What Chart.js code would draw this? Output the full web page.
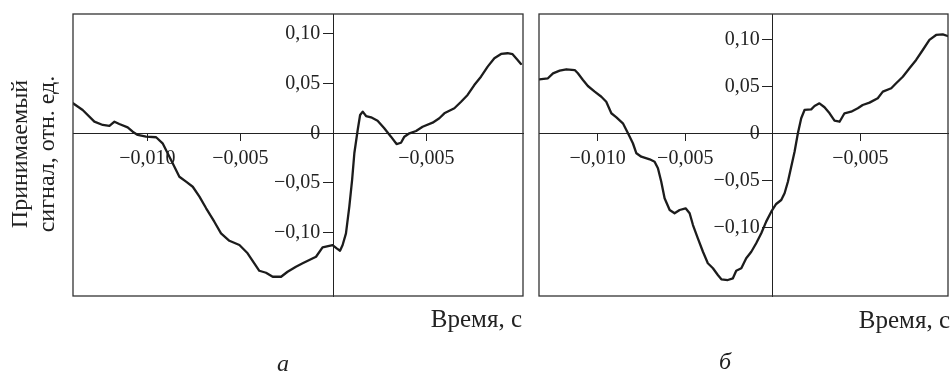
<!DOCTYPE html>
<html>
<head>
<meta charset="utf-8">
<script src="https://cdn.jsdelivr.net/npm/chart.js@4.4.1/dist/chart.umd.min.js"></script>
<style>
  html, body { margin: 0; padding: 0; background: #fff; }
  body { width: 950px; height: 372px; position: relative; overflow: hidden;
         font-family: "Liberation Serif", "Times New Roman", serif; color: #222; }
  canvas { position: absolute; }
  #cA { left: 0; top: -20px; }
  #cB { left: 530px; top: -20px; }
  .lbl { position: absolute; font-size: 24px; line-height: 24px; white-space: nowrap; }
  #ytitle { left: -66px; top: 126px; width: 200px; height: 56px; text-align: center;
            line-height: 27px; transform: rotate(-90deg); }
  #xtA { right: 428px; top: 307px; font-size: 25px; }
  #xtB { right: 0px; top: 308px; font-size: 25px; }
  .sub { font-style: italic; width: 40px; text-align: center; }
  #subA { left: 263px; top: 351px; }
  #subB { left: 705px; top: 349px; }
</style>
</head>
<body>
<canvas id="cA" width="530" height="392"></canvas>
<canvas id="cB" width="420" height="392"></canvas>
<div id="ytitle" class="lbl">Принимаемый<br>сигнал, отн. ед.</div>
<div id="xtA" class="lbl">Время, с</div>
<div id="xtB" class="lbl">Время, с</div>
<div id="subA" class="lbl sub">а</div>
<div id="subB" class="lbl sub">б</div>
<script>
// ---- data (time in seconds, signal in relative units) ----
const timeA = [-0.01400,-0.01348,-0.01285,-0.01240,-0.01204,-0.01177,-0.01151,-0.01106,-0.01079,-0.01052,
  -0.01007,-0.00953,-0.00918,-0.00891,-0.00864,-0.00828,-0.00792,-0.00756,-0.00720,-0.00684,
  -0.00640,-0.00604,-0.00559,-0.00505,-0.00461,-0.00425,-0.00398,-0.00362,-0.00326,-0.00281,
  -0.00246,-0.00201,-0.00165,-0.00129,-0.00093,-0.00058,-0.00004,0.00018,0.00036,0.00050,
  0.00068,0.00086,0.00101,0.00113,0.00131,0.00144,0.00158,0.00176,0.00203,0.00238,
  0.00274,0.00310,0.00340,0.00364,0.00382,0.00409,0.00445,0.00480,0.00534,0.00570,
  0.00597,0.00651,0.00687,0.00722,0.00758,0.00794,0.00830,0.00866,0.00902,0.00937,
  0.00964,0.00991,0.01009];
const signalA = [0.0302,0.0235,0.0117,0.0084,0.0074,0.0117,0.0094,0.0060,0.0016,-0.0017,
  -0.0034,-0.0040,-0.0101,-0.0201,-0.0302,-0.0437,-0.0487,-0.0538,-0.0638,-0.0755,
  -0.0890,-0.1007,-0.1082,-0.1125,-0.1208,-0.1309,-0.1384,-0.1404,-0.1444,-0.1444,
  -0.1394,-0.1343,-0.1309,-0.1276,-0.1243,-0.1148,-0.1125,-0.1158,-0.1182,-0.1125,
  -0.1007,-0.0739,-0.0470,-0.0201,0.0033,0.0184,0.0218,0.0174,0.0161,0.0127,
  0.0050,-0.0034,-0.0108,-0.0095,-0.0034,0.0000,0.0023,0.0066,0.0107,0.0151,
  0.0201,0.0252,0.0318,0.0386,0.0486,0.0570,0.0671,0.0755,0.0799,0.0806,
  0.0796,0.0738,0.0698];

const timeB = [-0.01333,-0.01284,-0.01255,-0.01217,-0.01179,-0.01131,-0.01113,-0.01084,-0.01056,-0.01017,
  -0.00979,-0.00951,-0.00922,-0.00893,-0.00856,-0.00827,-0.00799,-0.00779,-0.00751,-0.00703,
  -0.00675,-0.00656,-0.00637,-0.00618,-0.00589,-0.00561,-0.00532,-0.00498,-0.00475,-0.00456,
  -0.00428,-0.00399,-0.00371,-0.00342,-0.00314,-0.00294,-0.00257,-0.00228,-0.00209,-0.00180,
  -0.00152,-0.00123,-0.00095,-0.00066,-0.00038,-0.00009,0.00019,0.00048,0.00067,0.00086,
  0.00105,0.00124,0.00143,0.00162,0.00181,0.00219,0.00238,0.00266,0.00295,0.00324,
  0.00352,0.00381,0.00409,0.00447,0.00485,0.00513,0.00552,0.00599,0.00628,0.00676,
  0.00704,0.00742,0.00780,0.00818,0.00856,0.00894,0.00932,0.00970,0.00998];
const signalB = [0.0574,0.0585,0.0638,0.0666,0.0681,0.0673,0.0638,0.0567,0.0503,0.0443,
  0.0389,0.0336,0.0213,0.0170,0.0106,0.0000,-0.0106,-0.0213,-0.0249,-0.0277,
  -0.0302,-0.0372,-0.0515,-0.0691,-0.0816,-0.0851,-0.0816,-0.0798,-0.0851,-0.0976,
  -0.1117,-0.1260,-0.1383,-0.1436,-0.1507,-0.1553,-0.1561,-0.1543,-0.1462,-0.1436,
  -0.1330,-0.1260,-0.1170,-0.1064,-0.0940,-0.0834,-0.0752,-0.0710,-0.0638,-0.0515,
  -0.0355,-0.0196,0.0000,0.0160,0.0248,0.0255,0.0290,0.0319,0.0277,0.0213,
  0.0134,0.0123,0.0213,0.0230,0.0266,0.0301,0.0326,0.0372,0.0443,0.0479,
  0.0532,0.0602,0.0691,0.0780,0.0886,0.0993,0.1046,0.1053,0.1035];

// ---- ticks ----
const xTickValues = [-0.010, -0.005, 0.005];
const xTickLabels = ['\u22120,010', '\u22120,005', '\u22120,005'];
const yTickValues = [0.10, 0.05, 0, -0.05, -0.10];
const yTickLabels = ['0,10', '0,05', '0', '\u22120,05', '\u22120,10'];

const INK = '#222';
const FONT = { family: '"Liberation Serif", "Times New Roman", serif', size: 20 };

const framePlugin = {
  id: 'frame',
  afterDraw(chart) {
    const { ctx, chartArea: a } = chart;
    ctx.save();
    ctx.strokeStyle = '#333';
    ctx.lineWidth = 1.3;
    ctx.strokeRect(a.left, a.top, a.right - a.left, a.bottom - a.top);
    ctx.restore();
  }
};

// move y labels off the centred axis line (left of tick marks)
const yLabelShift = {
  id: 'yLabelShift',
  beforeDraw(chart) {
    const s = chart.scales.y;
    const items = s.getLabelItems(chart.chartArea);
    if (items._shifted) return;
    const axisX = chart.scales.x.getPixelForValue(0);
    const shift = s.options.grid.tickLength + 3;
    items.forEach(it => {
      if (it.options.translation[0] >= axisX - 1) it.options.translation[0] -= shift;
    });
    items._shifted = true;
  }
};

function makeChart(id, times, values, xr, yr, pad) {
  const pts = times.map((t, i) => ({ x: t, y: values[i] }));
  return new Chart(document.getElementById(id), {
    type: 'scatter',
    data: { datasets: [{ data: pts, showLine: true, borderColor: '#1c1c1c', borderWidth: 2.3,
      pointRadius: 0, tension: 0, borderJoinStyle: 'round', borderCapStyle: 'round' }] },
    options: {
      responsive: false, animation: false, devicePixelRatio: 1,
      layout: { padding: pad },
      plugins: { legend: { display: false }, tooltip: { enabled: false } },
      scales: {
        x: {
          type: 'linear', min: xr[0], max: xr[1], position: { y: 0 },
          afterBuildTicks: s => { s.ticks = xTickValues.map(v => ({ value: v })); },
          ticks: { autoSkip: false, maxRotation: 0, padding: 6, color: INK, font: FONT,
                   callback: (v, i) => xTickLabels[i] },
          grid: { drawOnChartArea: false, drawTicks: true, tickLength: 7, color: INK, lineWidth: 1 },
          border: { display: true, color: INK, width: 1 }
        },
        y: {
          type: 'linear', min: yr[0], max: yr[1], position: { x: 0 },
          afterBuildTicks: s => { s.ticks = yTickValues.map(v => ({ value: v })); },
          ticks: { autoSkip: false, padding: 2, color: INK, font: FONT,
                   callback: (v, i) => yTickLabels[i] },
          grid: { drawOnChartArea: false, drawTicks: true, tickLength: 10, color: INK, lineWidth: 1 },
          border: { display: true, color: INK, width: 1 }
        }
      }
    },
    plugins: [framePlugin, yLabelShift]
  });
}

makeChart('cA', timeA, signalA, [-0.0140, 0.0102], [-0.1638, 0.1201],
  { left: 73, right: 7, top: 34, bottom: 76 });
makeChart('cB', timeB, signalB, [-0.01335, 0.0100], [-0.1731, 0.1269],
  { left: 9, right: 2, top: 34, bottom: 76 });
</script>
</body>
</html>
